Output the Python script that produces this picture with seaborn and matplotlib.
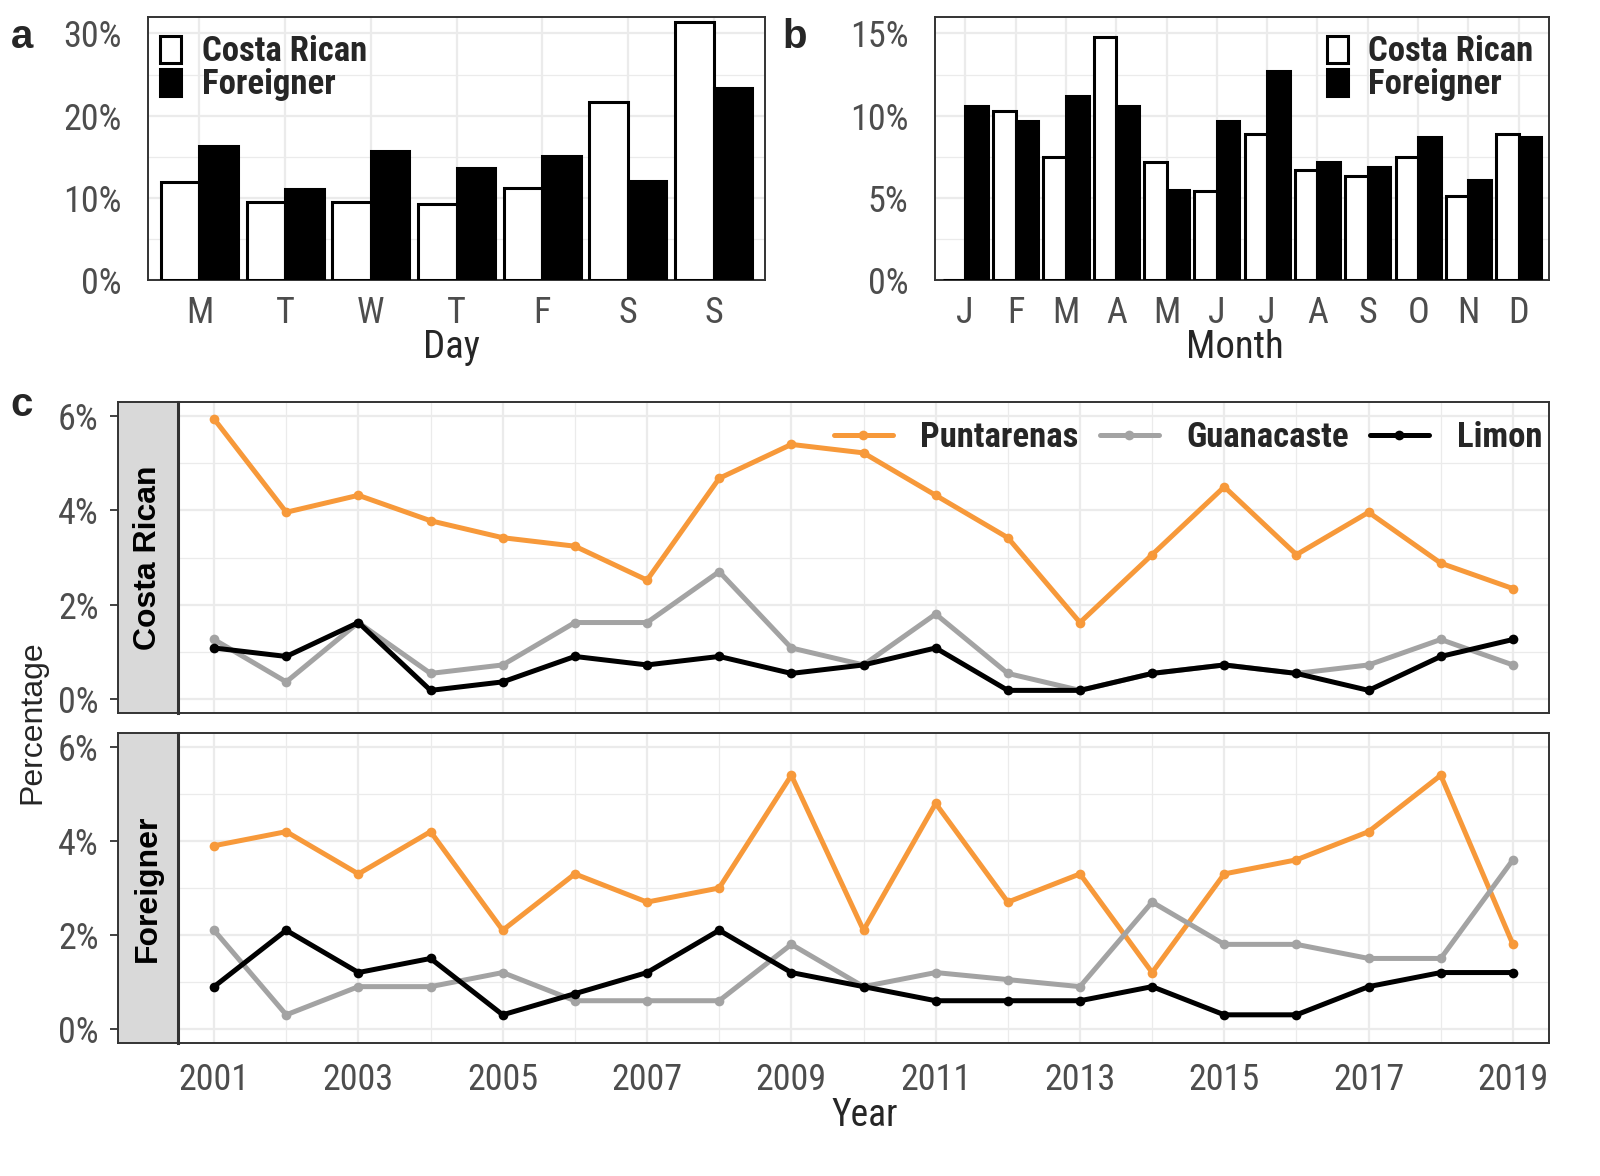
import matplotlib
matplotlib.use("Agg")
import matplotlib.pyplot as plt
from matplotlib.ticker import MultipleLocator, FixedLocator, FuncFormatter
import pandas as pd
import seaborn as sns

# ---- data (percentages) ----
day_names = ["Mon", "Tue", "Wed", "Thu", "Fri", "Sat", "Sun"]
day_labels = ["M", "T", "W", "T", "F", "S", "S"]
day_costa = [11.9, 9.5, 9.5, 9.2, 11.2, 21.7, 31.4]
day_foreign = [16.3, 11.1, 15.7, 13.6, 15.1, 12.1, 23.4]

month_names = ["Jan", "Feb", "Mar", "Apr", "May", "Jun",
               "Jul", "Aug", "Sep", "Oct", "Nov", "Dec"]
month_labels = ["J", "F", "M", "A", "M", "J", "J", "A", "S", "O", "N", "D"]
month_costa = [0.0, 10.3, 7.5, 14.8, 7.2, 5.4, 8.9, 6.7, 6.3, 7.5, 5.1, 8.9]
month_foreign = [10.6, 9.7, 11.2, 10.6, 5.5, 9.7, 12.7, 7.2, 6.9, 8.7, 6.1, 8.7]

years = list(range(2001, 2020))
punt_cr = [5.94, 3.96, 4.32, 3.78, 3.42, 3.24, 2.52, 4.68, 5.40, 5.22,
           4.32, 3.42, 1.62, 3.06, 4.50, 3.06, 3.96, 2.88, 2.34]
guan_cr = [1.26, 0.36, 1.62, 0.54, 0.72, 1.62, 1.62, 2.70, 1.08, 0.72,
           1.80, 0.54, 0.18, 0.54, 0.72, 0.54, 0.72, 1.26, 0.72]
limon_cr = [1.08, 0.90, 1.62, 0.18, 0.36, 0.90, 0.72, 0.90, 0.54, 0.72,
            1.08, 0.18, 0.18, 0.54, 0.72, 0.54, 0.18, 0.90, 1.26]
punt_fo = [3.9, 4.2, 3.3, 4.2, 2.1, 3.3, 2.7, 3.0, 5.4, 2.1,
           4.8, 2.7, 3.3, 1.2, 3.3, 3.6, 4.2, 5.4, 1.8]
guan_fo = [2.1, 0.3, 0.9, 0.9, 1.2, 0.6, 0.6, 0.6, 1.8, 0.9,
           1.2, 1.05, 0.9, 2.7, 1.8, 1.8, 1.5, 1.5, 3.6]
limon_fo = [0.9, 2.1, 1.2, 1.5, 0.3, 0.75, 1.2, 2.1, 1.2, 0.9,
            0.6, 0.6, 0.6, 0.9, 0.3, 0.3, 0.9, 1.2, 1.2]

provinces = ["Puntarenas", "Guanacaste", "Limon"]
prov_colors = {"Puntarenas": "#F7993A", "Guanacaste": "#A3A3A3", "Limon": "black"}
groups = ["Costa Rican", "Foreigner"]

sns.set_theme(style="white")
NARROW = ["Roboto Condensed", "Fira Sans Condensed", "Liberation Sans", "DejaVu Sans"]
REGULAR = ["Liberation Sans", "DejaVu Sans"]
plt.rcParams["font.family"] = NARROW

TICK_C = "#4D4D4D"
LINE_C = "#333333"
GRID_C = "#EBEBEB"

fig = plt.figure(figsize=(16, 11.76), dpi=100)


def px_axes(l, t, r, b):
    return fig.add_axes([l / 1600, 1 - b / 1176, (r - l) / 1600, (b - t) / 1176])


def style(ax):
    for s in ax.spines.values():
        s.set_color(LINE_C)
        s.set_linewidth(1.4)
    ax.tick_params(colors=LINE_C, labelcolor=TICK_C, labelsize=26,
                   length=6, width=1.3, direction="out")
    ax.tick_params(which="minor", length=0)
    ax.grid(True, which="major", color=GRID_C, linewidth=1.6)
    ax.grid(True, which="minor", color=GRID_C, linewidth=0.9)
    ax.set_axisbelow(True)


pct = FuncFormatter(lambda v, p: f"{v:.0f}%")


def bar_panel(ax, names, labels, costa, foreign, ymax, step, legend_loc, anchor):
    df = pd.DataFrame({
        "cat": names * 2,
        "pct": costa + foreign,
        "group": ["Costa Rican"] * len(names) + ["Foreigner"] * len(names),
    })
    sns.barplot(data=df, x="cat", y="pct", hue="group", order=names,
                hue_order=groups,
                palette={"Costa Rican": "white", "Foreigner": "black"},
                edgecolor="black", linewidth=2.2, width=0.9, gap=0,
                ax=ax, zorder=3)
    style(ax)
    ax.set_xlim(-0.6, len(names) - 0.4)
    ax.set_ylim(0, ymax)
    ax.yaxis.set_major_locator(MultipleLocator(step))
    ax.yaxis.set_minor_locator(MultipleLocator(step / 2))
    ax.yaxis.set_major_formatter(pct)
    ax.set_xticks(range(len(names)))
    ax.set_xticklabels(labels)
    ax.tick_params(axis="x", pad=5)
    ax.tick_params(axis="y", pad=13)
    ax.grid(True, axis="x", which="major", color=GRID_C, linewidth=1.6)
    ax.set_xlabel("")
    ax.set_ylabel("")
    h, l = ax.get_legend_handles_labels()
    ax.legend(h, l, loc=legend_loc, bbox_to_anchor=anchor, frameon=False,
              prop={"weight": "bold", "size": 25, "family": NARROW},
              handlelength=0.6, handleheight=0.8, handletextpad=0.6,
              labelspacing=0.0, borderaxespad=0, borderpad=0)


ax_a = px_axes(148, 17, 765, 280)
bar_panel(ax_a, day_names, day_labels, day_costa, day_foreign, 32, 10,
          "upper left", (0.02, 0.93))
ax_b = px_axes(935, 17, 1549, 280)
bar_panel(ax_b, month_names, month_labels, month_costa, month_foreign, 16, 5,
          "upper right", (0.975, 0.93))

fig.text(451 / 1600, 1 - 348 / 1176, "Day", ha="center", va="center", size=28)
fig.text(1235 / 1600, 1 - 348 / 1176, "Month", ha="center", va="center", size=28)

# ---- panel c ----
series = {
    ("Costa Rican", "Puntarenas"): punt_cr,
    ("Costa Rican", "Guanacaste"): guan_cr,
    ("Costa Rican", "Limon"): limon_cr,
    ("Foreigner", "Puntarenas"): punt_fo,
    ("Foreigner", "Guanacaste"): guan_fo,
    ("Foreigner", "Limon"): limon_fo,
}
rows = []
for (g, p), vals in series.items():
    for y, v in zip(years, vals):
        rows.append({"group": g, "province": p, "year": y, "pct": v})
dfc = pd.DataFrame(rows)

facet_px = {"Costa Rican": (402, 713), "Foreigner": (733, 1043)}
for g in groups:
    top, bot = facet_px[g]
    ax = px_axes(178, top, 1549, bot)
    sax = px_axes(118, top, 178, bot)
    sns.lineplot(data=dfc[dfc["group"] == g], x="year", y="pct",
                 hue="province", hue_order=provinces, palette=prov_colors,
                 marker="o", markersize=7, markeredgewidth=0, linewidth=3.6,
                 ax=ax, legend=(g == "Costa Rican"))
    style(ax)
    ax.set_xlim(2000.5, 2019.5)
    ax.set_ylim(-0.3, 6.3)
    ax.xaxis.set_major_locator(FixedLocator(years[::2]))
    ax.xaxis.set_minor_locator(FixedLocator(years[1::2]))
    ax.yaxis.set_major_locator(MultipleLocator(2))
    ax.yaxis.set_minor_locator(MultipleLocator(1))
    ax.tick_params(left=False, labelleft=False)
    ax.set_xlabel("")
    ax.set_ylabel("")
    if g == "Costa Rican":
        ax.tick_params(axis="x", bottom=False, labelbottom=False)
        h, l = ax.get_legend_handles_labels()
        ax.legend(h, l, loc="upper right", bbox_to_anchor=(0.995, 0.94),
                  ncol=3, frameon=False,
                  prop={"weight": "bold", "size": 25, "family": NARROW},
                  handlelength=1.7, handletextpad=0.8, columnspacing=0.6,
                  borderaxespad=0, borderpad=0)
    else:
        ax.tick_params(axis="x", pad=8)

    # strip on the left
    sax.set_facecolor("#D9D9D9")
    for s in sax.spines.values():
        s.set_color(LINE_C)
        s.set_linewidth(1.4)
    sax.spines["right"].set_linewidth(2.2)
    sax.set_xticks([])
    sax.set_ylim(-0.3, 6.3)
    sax.yaxis.set_major_locator(MultipleLocator(2))
    sax.yaxis.set_major_formatter(pct)
    sax.tick_params(axis="y", colors=LINE_C, labelcolor=TICK_C, labelsize=26,
                    length=6, width=1.3, pad=8, left=True)
    sax.text(0.5, 0.5, g, transform=sax.transAxes, rotation=90,
             ha="center", va="center", size=23, weight="bold",
             family=REGULAR, color="black")

fig.text(865 / 1600, 1 - 1115 / 1176, "Year", ha="center", va="center", size=27)
fig.text(32 / 1600, 1 - 722 / 1176, "Percentage", ha="center", va="center",
         rotation=90, size=23, family=REGULAR)

for lab, x, y in [("a", 22, 37), ("b", 795, 37), ("c", 22, 405)]:
    fig.text(x / 1600, 1 - y / 1176, lab, ha="center", va="center",
             size=29, weight="bold", family=REGULAR)

fig.savefig("out.png", dpi=100)
